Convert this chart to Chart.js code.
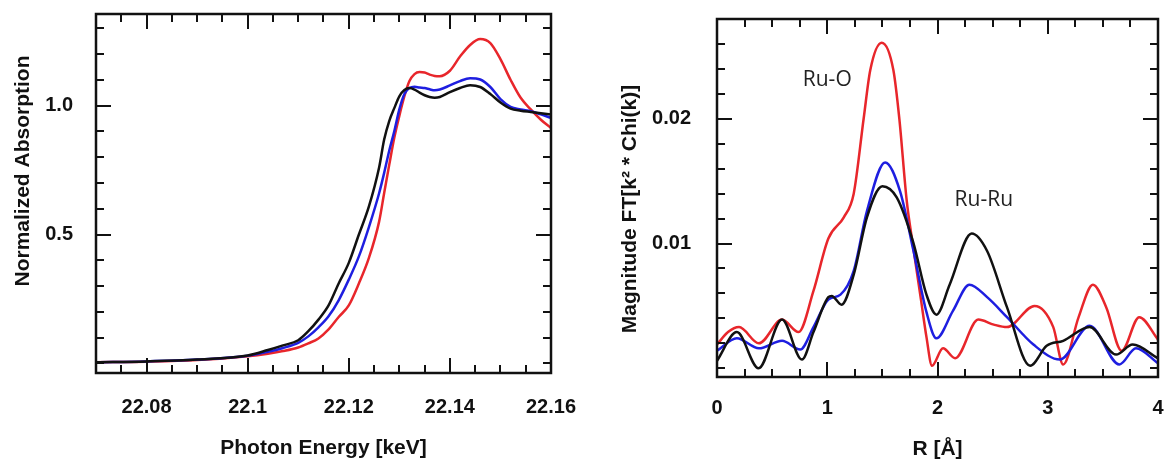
<!DOCTYPE html>
<html>
<head>
<meta charset="utf-8">
<script src="https://cdn.jsdelivr.net/npm/chart.js@4.4.0/dist/chart.umd.min.js"></script>
<style>
  body { margin: 0; background: #fff; }
  #xanesChart { position: absolute; left: 0; top: 0; }
  #exafsChart { position: absolute; left: 580px; top: 0; }
</style>
</head>
<body>
<canvas id="xanesChart" width="580" height="464"></canvas>
<canvas id="exafsChart" width="585" height="464"></canvas>
<script>
// --- XANES (left panel) ---
const energy = [22.07, 22.08, 22.09, 22.1, 22.104, 22.107, 22.11, 22.112, 22.114, 22.116, 22.118, 22.12,
  22.122, 22.124, 22.126, 22.127, 22.128, 22.129, 22.13, 22.131, 22.132, 22.133, 22.134, 22.135, 22.136,
  22.137, 22.138, 22.14, 22.142, 22.144, 22.146, 22.148, 22.15, 22.152, 22.154, 22.156, 22.158, 22.16];
const absBlack = [0.005, 0.008, 0.015, 0.031, 0.052, 0.07, 0.09, 0.125, 0.17, 0.225, 0.31, 0.39,
  0.5, 0.61, 0.76, 0.868, 0.94, 0.99, 1.036, 1.06, 1.068, 1.062, 1.05, 1.04, 1.033,
  1.03, 1.033, 1.052, 1.068, 1.079, 1.072, 1.045, 1.012, 0.988, 0.98, 0.975, 0.97, 0.965];
const absBlue = [0.005, 0.008, 0.015, 0.03, 0.045, 0.06, 0.08, 0.105, 0.14, 0.183, 0.245, 0.325,
  0.415, 0.53, 0.66, 0.739, 0.825, 0.9, 0.985, 1.045, 1.068, 1.073, 1.07, 1.068, 1.063,
  1.059, 1.062, 1.078, 1.095, 1.106, 1.101, 1.072, 1.025, 0.995, 0.985, 0.978, 0.966, 0.952];
const absRed = [0.005, 0.007, 0.013, 0.028, 0.038, 0.048, 0.062, 0.078, 0.097, 0.132, 0.18, 0.225,
  0.31, 0.41, 0.55, 0.661, 0.77, 0.875, 0.96, 1.036, 1.095, 1.122, 1.13, 1.128, 1.12,
  1.115, 1.114, 1.135, 1.19, 1.235, 1.258, 1.242, 1.18, 1.1, 1.03, 0.985, 0.945, 0.913];
const energyTicks = [22.08, 22.1, 22.12, 22.14, 22.16];
const energyTickLabels = ['22.08', '22.1', '22.12', '22.14', '22.16'];
const absTicks = [0.5, 1.0];
const absTickLabels = ['0.5', '1.0'];

// --- EXAFS FT magnitude (right panel) ---
const rBlack = [0, 0.18, 0.377, 0.59, 0.77, 0.875, 1.01, 1.04, 1.13, 1.24, 1.36, 1.5, 1.63, 1.78, 1.9,
  1.99, 2.11, 2.31, 2.45, 2.63, 2.84, 2.99, 3.14, 3.38, 3.62, 3.77, 4.0];
const ftBlack = [0.0006, 0.0029, 0.0, 0.0039, 0.0007, 0.0029, 0.0057, 0.0058, 0.0051, 0.0075, 0.0121,
  0.0146, 0.0137, 0.0101, 0.0059, 0.0043, 0.0067, 0.0108, 0.0094, 0.0049, 0.0002, 0.0018, 0.0022,
  0.0033, 0.0011, 0.0019, 0.0008];
const rBlue = [0, 0.18, 0.38, 0.59, 0.755, 0.875, 1.01, 1.12, 1.24, 1.36, 1.525, 1.66, 1.78, 1.9, 1.99,
  2.14, 2.29, 2.45, 2.63, 2.87, 3.11, 3.38, 3.65, 3.8, 4.0];
const ftBlue = [0.0014, 0.0024, 0.0016, 0.0022, 0.0015, 0.0033, 0.0055, 0.0059, 0.0078, 0.0126, 0.0165,
  0.0142, 0.0095, 0.0045, 0.0024, 0.0046, 0.0067, 0.0057, 0.0041, 0.0019, 0.0007, 0.0034, 0.0003,
  0.0016, 0.0004];
const rRed = [0, 0.1, 0.2, 0.38, 0.59, 0.74, 0.875, 1.01, 1.15, 1.24, 1.33, 1.39, 1.494, 1.6, 1.654,
  1.72, 1.78, 1.85, 1.9, 1.95, 2.05, 2.16, 2.37, 2.51, 2.63, 2.88, 3.05, 3.14, 3.28, 3.41, 3.53, 3.67,
  3.83, 4.0];
const ftRed = [0.0019, 0.0029, 0.0033, 0.002, 0.0039, 0.0029, 0.0062, 0.0104, 0.0121, 0.014, 0.02,
  0.0239, 0.0261, 0.0239, 0.02, 0.0135, 0.0097, 0.0055, 0.0025, 0.0002, 0.0016, 0.0008, 0.0039,
  0.0035, 0.0033, 0.005, 0.0033, 0.0003, 0.0041, 0.0067, 0.0049, 0.0014, 0.0041, 0.0023];
const rTicks = [0, 1, 2, 3, 4];
const rTickLabels = ['0', '1', '2', '3', '4'];
const ftTicks = [0.01, 0.02];
const ftTickLabels = ['0.01', '0.02'];
const peakLabels = ['Ru-O', 'Ru-Ru'];
const peakLabelR = [1.0, 2.42];
const peakLabelFt = [0.0231, 0.0135];

const RED = '#e8262b', BLUE = '#1e1ee0', BLACK = '#111111';
const FAMILY = "'Liberation Sans', Arial, sans-serif";
const tickFont = { family: FAMILY, size: 20, weight: 'bold' };
const titleFont = { family: FAMILY, size: 21, weight: 'bold' };

function steps(from, to, step) {
  const out = [];
  const n = Math.round((to - from) / step);
  for (let i = 0; i <= n; i++) out.push(+(from + i * step).toFixed(6));
  return out;
}

function pairs(xs, ys) {
  return xs.map((x, i) => ({ x: x, y: ys[i] }));
}

function line(data, color) {
  return {
    data: data,
    borderColor: color,
    borderWidth: 2.5,
    pointRadius: 0,
    fill: false,
    cubicInterpolationMode: 'monotone'
  };
}

// frame with inward ticks on all four sides
const frameTicks = {
  id: 'frameTicks',
  afterDatasetsDraw(chart, args, opts) {
    const { ctx, chartArea: a, scales: { x, y } } = chart;
    ctx.save();
    ctx.strokeStyle = '#111';
    ctx.lineWidth = 2.5;
    ctx.strokeRect(a.left, a.top, a.right - a.left, a.bottom - a.top);
    ctx.lineWidth = 2;
    ctx.beginPath();
    const tickX = (vals, len) => vals.forEach(v => {
      const px = Math.round(x.getPixelForValue(v));
      if (px <= a.left + 1 || px >= a.right - 1) return;
      ctx.moveTo(px, a.bottom); ctx.lineTo(px, a.bottom - len);
      ctx.moveTo(px, a.top); ctx.lineTo(px, a.top + len);
    });
    const tickY = (vals, len) => vals.forEach(v => {
      const py = Math.round(y.getPixelForValue(v));
      if (py <= a.top + 1 || py >= a.bottom - 1) return;
      ctx.moveTo(a.left, py); ctx.lineTo(a.left + len, py);
      ctx.moveTo(a.right, py); ctx.lineTo(a.right - len, py);
    });
    tickX(opts.xMinor, 8); tickX(opts.xMajor, 15);
    tickY(opts.yMinor, 8); tickY(opts.yMajor, 15);
    ctx.stroke();
    ctx.restore();
  }
};

// rotated y-axis title placed where the figure has it
const sideTitle = {
  id: 'sideTitle',
  afterDraw(chart, args, opts) {
    const ctx = chart.ctx;
    ctx.save();
    ctx.translate(opts.x, opts.y);
    ctx.rotate(-Math.PI / 2);
    ctx.font = 'bold 21px ' + FAMILY;
    ctx.fillStyle = '#111';
    ctx.textAlign = 'center';
    ctx.textBaseline = 'middle';
    ctx.fillText(opts.text, 0, 0);
    ctx.restore();
  }
};

const peakText = {
  id: 'peakText',
  afterDraw(chart, args, opts) {
    if (!opts.labels) return;
    const { ctx, scales: { x, y } } = chart;
    ctx.save();
    ctx.font = "21px 'Open Sans', sans-serif";
    ctx.fillStyle = '#222';
    ctx.textAlign = 'center';
    ctx.textBaseline = 'middle';
    opts.labels.forEach((t, i) => {
      ctx.fillText(t, x.getPixelForValue(opts.xs[i]), y.getPixelForValue(opts.ys[i]));
    });
    ctx.restore();
  }
};

// the scales' own edge padding would shrink the plot area, drop it
function noEdgePadding(s) {
  s.paddingTop = 0; s.paddingBottom = 0; s.paddingLeft = 0; s.paddingRight = 0;
}

function axisX(min, max, ticks, labels, title, size, tickPad, titlePad) {
  return {
    type: 'linear', min: min, max: max,
    grid: { display: false, drawTicks: false },
    border: { display: false },
    afterBuildTicks: s => { s.ticks = ticks.map(v => ({ value: v })); },
    afterFit: s => { s.height = size; noEdgePadding(s); },
    ticks: { padding: tickPad, color: '#111', font: tickFont, maxRotation: 0, autoSkip: false,
      callback: (v, i) => labels[i] },
    title: { display: true, text: title, color: '#111', font: titleFont, padding: { top: 0, bottom: titlePad } }
  };
}

function axisY(min, max, ticks, labels, size, tickPad) {
  return {
    type: 'linear', min: min, max: max,
    grid: { display: false, drawTicks: false },
    border: { display: false },
    afterBuildTicks: s => { s.ticks = ticks.map(v => ({ value: v })); },
    afterFit: s => { s.width = size; noEdgePadding(s); },
    ticks: { padding: tickPad, color: '#111', font: tickFont, autoSkip: false,
      callback: (v, i) => labels[i] }
  };
}

new Chart(document.getElementById('xanesChart'), {
  type: 'line',
  data: {
    datasets: [
      line(pairs(energy, absBlack), BLACK),
      line(pairs(energy, absBlue), BLUE),
      line(pairs(energy, absRed), RED)
    ]
  },
  options: {
    responsive: false,
    animation: false,
    layout: { padding: { left: 0, top: 14, right: 29, bottom: 0 } },
    plugins: {
      legend: { display: false },
      tooltip: { enabled: false },
      frameTicks: { xMajor: energyTicks, xMinor: steps(22.07, 22.16, 0.005), yMajor: absTicks, yMinor: steps(0, 1.3, 0.1) },
      sideTitle: { text: 'Normalized Absorption', x: 23, y: 171 }
    },
    scales: {
      x: axisX(22.07, 22.16, energyTicks, energyTickLabels, 'Photon Energy [keV]', 91, 22, 3),
      y: axisY(-0.037, 1.355, absTicks, absTickLabels, 96, 23)
    }
  },
  plugins: [frameTicks, sideTitle, peakText]
});

new Chart(document.getElementById('exafsChart'), {
  type: 'line',
  data: {
    datasets: [
      line(pairs(rBlack, ftBlack), BLACK),
      line(pairs(rBlue, ftBlue), BLUE),
      line(pairs(rRed, ftRed), RED)
    ]
  },
  options: {
    responsive: false,
    animation: false,
    layout: { padding: { left: 0, top: 19, right: 7, bottom: 0 } },
    plugins: {
      legend: { display: false },
      tooltip: { enabled: false },
      frameTicks: { xMajor: rTicks, xMinor: steps(0, 4, 0.25), yMajor: ftTicks, yMinor: steps(0, 0.028, 0.002) },
      sideTitle: { text: 'Magnitude FT[k\u00b2 * Chi(k)]', x: 50, y: 209 },
      peakText: { labels: peakLabels, xs: peakLabelR, ys: peakLabelFt }
    },
    scales: {
      x: axisX(0, 4, rTicks, rTickLabels, 'R [\u00c5]', 87, 19, 2),
      y: axisY(-0.0007, 0.028, ftTicks, ftTickLabels, 137, 26)
    }
  },
  plugins: [frameTicks, sideTitle, peakText]
});
</script>
</body>
</html>
